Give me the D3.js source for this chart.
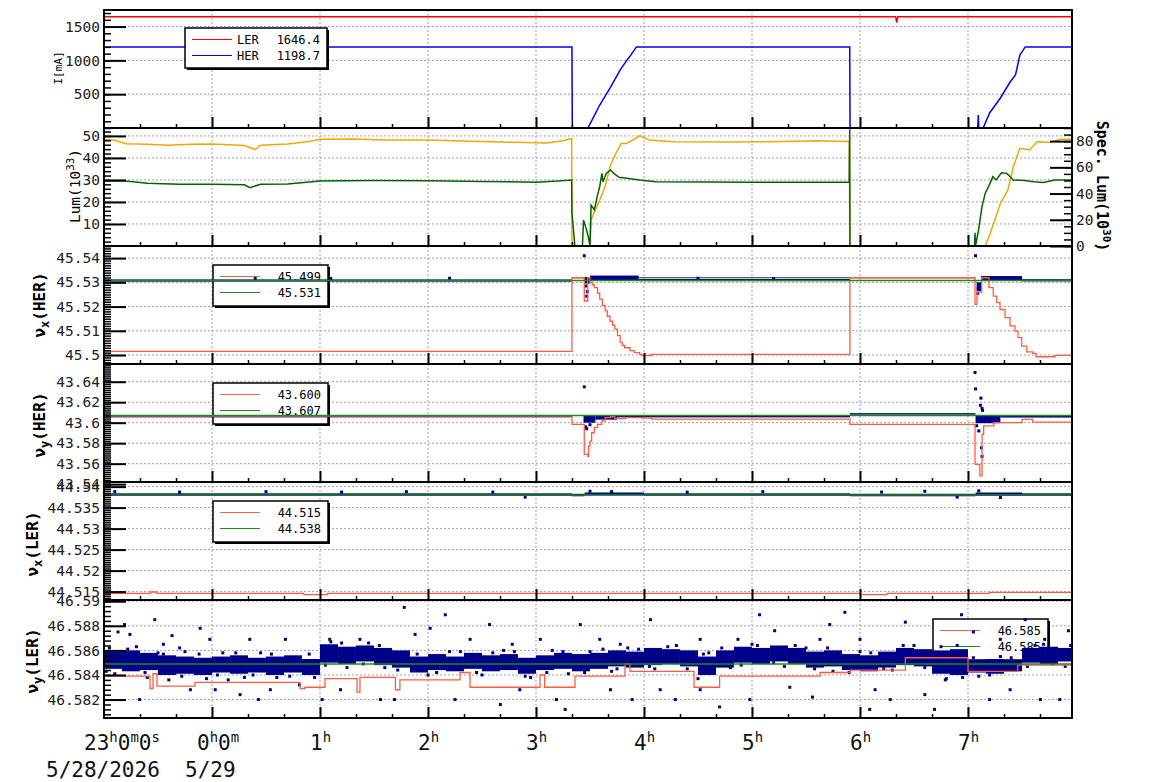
<!DOCTYPE html>
<html>
<head>
<meta charset="utf-8">
<title>HER / LER tunes</title>
<script src="https://cdn.jsdelivr.net/npm/d3@7/dist/d3.min.js"></script>
<style>
  body { margin: 0; background: #fff; }
  svg { display: block; }
  text { font-family: "DejaVu Sans Mono", monospace; }
</style>
</head>
<body>
<div id="chart"></div>
<script>
// time is in hours from 0:00 on 5/29 (so -1 = 23:00 on 5/28)
const timeRange = [-1, 7.963];
const hourTicks = [-1, 0, 1, 2, 3, 4, 5, 6, 7];
const hourLabels = [
  [-1, [["23", 0], ["h", 1], ["0", 0], ["m", 1], ["0", 0], ["s", 1]]],
  [0, [["0", 0], ["h", 1], ["0", 0], ["m", 1]]],
  [1, [["1", 0], ["h", 1]]], [2, [["2", 0], ["h", 1]]], [3, [["3", 0], ["h", 1]]],
  [4, [["4", 0], ["h", 1]]], [5, [["5", 0], ["h", 1]]], [6, [["6", 0], ["h", 1]]],
  [7, [["7", 0], ["h", 1]]]
];
const dateLabels = [[-1, "5/28/2026"], [0, "5/29"]];

// y domains and labelled ticks, one per panel
const yDomains = [[0, 1745], [0, 53.6], [45.4963, 45.545], [43.5421, 43.6573], [44.513, 44.5411], [46.5805, 46.5901]];
const yMajors = [
  [500, 1000, 1500],
  [10, 20, 30, 40, 50],
  [45.5, 45.51, 45.52, 45.53, 45.54],
  [43.54, 43.56, 43.58, 43.6, 43.62, 43.64],
  [44.515, 44.52, 44.525, 44.53, 44.535, 44.54],
  [46.582, 46.584, 46.586, 46.588, 46.59]
];
const yMinorSteps = [100, 2, 0.001, 0.002, 0.0005, 0.0004];
const specLumDomain = [0, 90];
const specLumMajors = [0, 20, 40, 60, 80];

// panel 1: beam currents [mA]
const lerCurrent = [[-1, 1646.4], [6.33, 1646.4], [6.34, 1560], [6.35, 1646.4], [7.963, 1646.4]];
const herCurrent = [[-1, 1198.7], [3.333, 1198.7], [3.336, 0], [3.48, 0], [3.52, 120], [3.59, 340], [3.685, 590],
  [3.78, 860], [3.84, 1000], [3.87, 1060], [3.93, 1198.7], [5.905, 1198.7], [5.908, 0], [7.09, 0], [7.095, 190],
  [7.1, 0], [7.14, 0], [7.2, 222], [7.3, 444], [7.39, 680], [7.44, 784], [7.48, 1080], [7.53, 1198.7], [7.963, 1198.7]];
const currentLegend = [["LER", "1646.4"], ["HER", "1198.7"]];

// panel 2: luminosity
const lumOrange = [[-1, 48.5], [-0.9, 48], [-0.8, 46.5], [-0.6, 46.2], [-0.4, 45.8], [-0.2, 46.2], [0, 46.3], [0.3, 45.6],
  [0.4, 43.8], [0.45, 45.8], [0.7, 46.3], [0.9, 47.5], [1.0, 48.5], [1.3, 48.6], [1.6, 48.2], [2.0, 48.1], [2.4, 47.6],
  [2.8, 47.1], [3.1, 46.8], [3.25, 47.8], [3.33, 48.8], [3.333, 0], [3.5, 0], [3.51, 11.8], [3.55, 16.4], [3.59, 20.9],
  [3.64, 27], [3.69, 36.8], [3.74, 42.1], [3.79, 46.6], [3.84, 46.6], [3.96, 50], [4.05, 48.2], [4.27, 47.4], [4.8, 47.2],
  [5.3, 47.5], [5.6, 47.8], [5.9, 47.5], [5.907, 0], [7.16, 0], [7.2, 5], [7.25, 12], [7.3, 19.4], [7.37, 25.5],
  [7.42, 36], [7.48, 44.4], [7.57, 43.6], [7.64, 47.4], [7.76, 47], [7.85, 48.5], [7.963, 48.5]];
const lumGreen = [[-1, 29.5], [-0.8, 29.5], [-0.6, 28.5], [-0.3, 28], [0, 28], [0.3, 27.8], [0.35, 26.5], [0.45, 28],
  [0.7, 28.2], [1.0, 29.5], [1.5, 29.8], [2.0, 29.6], [2.5, 29.3], [3.0, 29], [3.2, 29.5], [3.33, 30], [3.333, 15],
  [3.36, 0], [3.43, 0], [3.44, 11.8], [3.47, 7], [3.485, 4], [3.5, 0], [3.51, 18.6], [3.54, 16.4], [3.57, 23.2],
  [3.59, 27], [3.61, 33], [3.62, 29.2], [3.65, 33], [3.69, 34.5], [3.72, 33], [3.77, 31.2], [3.84, 30.8], [3.96, 30],
  [4.11, 29.2], [5.0, 29], [5.9, 29], [5.905, 53], [5.907, 0], [7.06, 0], [7.065, 6], [7.07, 0], [7.1, 8], [7.13, 18],
  [7.16, 24], [7.2, 28], [7.23, 31.5], [7.26, 30], [7.31, 33.3], [7.36, 33], [7.42, 30], [7.52, 29.7], [7.61, 29.2],
  [7.7, 28.8], [7.8, 30], [7.963, 30]];

// panel 3: nu_x HER
const nuxHerRed = [[-1, 45.5015], [3.333, 45.5319], [3.447, 45.5223], [3.479, 45.5319], [3.5, 45.53], [3.52, 45.529],
  [3.54, 45.5278], [3.57, 45.5255], [3.59, 45.5231], [3.615, 45.5205], [3.64, 45.5182], [3.66, 45.516], [3.685, 45.514],
  [3.71, 45.5122], [3.73, 45.5107], [3.755, 45.508], [3.78, 45.5051], [3.8, 45.504], [3.82, 45.503], [3.87, 45.5018],
  [3.91, 45.501], [3.96, 45.5003], [3.98, 45.4998], [4.07, 45.5003], [5.907, 45.5319], [7.065, 45.5209], [7.083, 45.526],
  [7.127, 45.5319], [7.194, 45.5278], [7.234, 45.5243], [7.266, 45.5216], [7.296, 45.5188], [7.343, 45.5154],
  [7.389, 45.512], [7.435, 45.5099], [7.463, 45.5072], [7.497, 45.5037], [7.544, 45.5013], [7.6, 45.5007],
  [7.63, 45.4993], [7.806, 45.4999], [7.963, 45.4999]];
const nuxHerGreen = [[-1, 45.5308], [7.963, 45.5308]];
const nuxHerRef = [[3.333, 45.5319], [7.07, 45.5319]];
const nuxHerBlue = [[-1, 3.333, 45.5303, 45.5312], [3.45, 3.5, 45.5295, 45.5322], [3.5, 3.95, 45.5308, 45.5328],
  [3.95, 5.907, 45.5305, 45.5314], [7.08, 7.12, 45.5264, 45.53], [7.12, 7.5, 45.5306, 45.5326], [7.5, 7.963, 45.5304, 45.5313]];
const nuxHerDots = [[3.447, 45.541], [7.07, 45.541], [3.47, 45.5243], [3.475, 45.5262], [3.46, 45.5285], [7.09, 45.5255],
  [7.095, 45.5275], [0.4, 45.5316], [1.1, 45.5316], [2.2, 45.5317], [4.5, 45.5317], [5.2, 45.5316]];
const nuxHerLegend = ["45.499", "45.531"];

// panel 4: nu_y HER
const nuyHerRed = [[-1, 43.6065], [3.333, 43.5984], [3.447, 43.5691], [3.48, 43.5668], [3.487, 43.5772], [3.5, 43.5821],
  [3.515, 43.5902], [3.54, 43.5951], [3.57, 43.5984], [3.61, 43.6017], [3.64, 43.6049], [3.69, 43.6058], [3.73, 43.6039],
  [3.83, 43.6049], [3.98, 43.6045], [4.07, 43.6035], [5.907, 43.5984], [7.065, 43.5594], [7.11, 43.548], [7.13, 43.5887],
  [7.145, 43.5968], [7.24, 43.6], [7.5, 43.6033], [7.6, 43.6005], [7.963, 43.6005]];
const nuyHerGreen = [[-1, 43.607], [7.963, 43.607]];
const nuyHerBlue = [[-1, 3.333, 43.6052, 43.6068], [3.44, 3.55, 43.6, 43.6072], [3.55, 3.75, 43.603, 43.6072],
  [3.75, 5.907, 43.6052, 43.607], [5.907, 7.07, 43.6083, 43.6093], [7.07, 7.3, 43.5995, 43.6072], [7.3, 7.963, 43.605, 43.607]];
const nuyHerDots = [[3.447, 43.635], [3.46, 43.596], [3.47, 43.594], [3.5, 43.598], [7.065, 43.649], [7.07, 43.633],
  [7.12, 43.624], [7.115, 43.617], [7.13, 43.614], [7.135, 43.612], [7.08, 43.597], [7.1, 43.592], [7.125, 43.5755], [7.13, 43.567]];
const nuyHerLegend = ["43.600", "43.607"];

// panel 5: nu_x LER
const nuxLerRed = [[-1, 44.5146], [-0.57, 44.5149], [-0.51, 44.5146], [0.85, 44.5143], [1.07, 44.5146], [6.0, 44.5143],
  [6.25, 44.5146], [7.2, 44.5148], [7.963, 44.5148]];
const nuxLerGreen = [[-1, 44.538], [7.963, 44.538]];
const nuxLerBlue = [[-1, 3.333, 44.5378, 44.5384], [3.333, 3.45, 44.5377, 44.5383], [3.45, 4.0, 44.5379, 44.5386],
  [4.0, 5.907, 44.5378, 44.5384], [5.907, 7.07, 44.5377, 44.5383], [7.07, 7.5, 44.5378, 44.5386], [7.5, 7.963, 44.5378, 44.5384]];
const nuxLerDots = [[-0.9, 44.5388], [-0.3, 44.5387], [0.5, 44.5388], [1.2, 44.5387], [1.8, 44.5388], [2.6, 44.5387],
  [3.5, 44.5389], [3.7, 44.5388], [4.4, 44.5387], [5.1, 44.5388], [6.2, 44.5387], [6.6, 44.5389], [7.1, 44.539],
  [7.3, 44.5374], [6.9, 44.5375], [2.9, 44.5375]];
const nuxLerLegend = ["44.515", "44.538"];

// panel 6: nu_y LER
const nuyLerRed = [[-1, 46.5839], [-0.574, 46.5829], [-0.546, 46.5841], [-0.509, 46.5831], [-0.157, 46.5834],
  [0.815, 46.5829], [0.861, 46.583], [1.046, 46.5837], [1.343, 46.5826], [1.37, 46.5838], [1.698, 46.5828],
  [1.74, 46.5836], [2.296, 46.5842], [2.389, 46.583], [3.037, 46.584], [3.08, 46.583], [3.361, 46.5839],
  [3.824, 46.5849], [3.87, 46.5843], [4.463, 46.583], [4.7, 46.5839], [5.63, 46.5842], [5.907, 46.5844],
  [6.42, 46.5854], [7.0, 46.5843], [7.46, 46.5848], [7.963, 46.5848]];
const nuyLerGreen = [[-1, 46.5849], [7.963, 46.5849]];
// dense part of the scatter, per 10 minutes: [start, low, high]
const nuyLerCore = [
  [-1, 46.5845, 46.5859], [-0.833, 46.5843, 46.586], [-0.667, 46.5844, 46.5858], [-0.5, 46.584, 46.5856],
  [-0.333, 46.5841, 46.5855], [-0.167, 46.584, 46.5854], [0, 46.5842, 46.5855], [0.167, 46.5841, 46.5856],
  [0.333, 46.5842, 46.5854], [0.5, 46.584, 46.5855], [0.667, 46.5842, 46.5856], [0.833, 46.584, 46.5853],
  [1, 46.585, 46.5865], [1.167, 46.5849, 46.5863], [1.333, 46.5851, 46.5864], [1.5, 46.5848, 46.5862],
  [1.667, 46.5846, 46.586], [1.833, 46.5842, 46.5855], [2, 46.5844, 46.5857], [2.167, 46.5843, 46.5855],
  [2.333, 46.5845, 46.5858], [2.5, 46.5843, 46.5856], [2.667, 46.5844, 46.5857], [2.833, 46.5841, 46.5854],
  [3, 46.5844, 46.5856], [3.167, 46.5845, 46.5858], [3.333, 46.5843, 46.5857], [3.5, 46.5845, 46.5858],
  [3.667, 46.5847, 46.586], [3.833, 46.5846, 46.5859], [4, 46.5848, 46.5862], [4.167, 46.5849, 46.5861],
  [4.333, 46.5847, 46.586], [4.5, 46.584, 46.5855], [4.667, 46.5846, 46.586], [4.833, 46.585, 46.5863],
  [5, 46.5849, 46.5862], [5.167, 46.5851, 46.5864], [5.333, 46.5849, 46.5862], [5.5, 46.5846, 46.5859],
  [5.667, 46.5847, 46.586], [5.833, 46.5844, 46.5857], [6, 46.5843, 46.5856], [6.167, 46.5846, 46.5859],
  [6.333, 46.5848, 46.5862], [6.5, 46.5847, 46.5861], [6.667, 46.5841, 46.586], [6.833, 46.584, 46.5861],
  [7, 46.5842, 46.5852], [7.167, 46.5841, 46.5853], [7.333, 46.5843, 46.5852], [7.5, 46.585, 46.5862],
  [7.667, 46.5849, 46.5863], [7.833, 46.5851, 46.5862]];
const nuyLerDots = [[-0.87, 46.5875], [-0.81, 46.5881], [-0.76, 46.5873], [-0.53, 46.5885], [-0.45, 46.5865], [-0.37, 46.5872],
  [-0.3, 46.5862], [-0.11, 46.5878], [0.03, 46.5828], [0.15, 46.5836], [0.26, 46.5824], [0.43, 46.582], [0.54, 46.5828],
  [0.81, 46.5832], [1.02, 46.582], [1.19, 46.5828], [1.56, 46.582], [1.78, 46.5895], [1.88, 46.5873], [2.02, 46.5878],
  [2.16, 46.5889], [2.39, 46.5869], [2.57, 46.5881], [2.78, 46.5865], [2.85, 46.5828], [3.19, 46.582], [3.27, 46.5812],
  [3.41, 46.5881], [3.59, 46.5869], [3.69, 46.5828], [3.89, 46.582], [4.06, 46.5885], [4.15, 46.5828], [4.29, 46.582],
  [4.52, 46.5828], [4.7, 46.5814], [4.87, 46.5869], [5.07, 46.5889], [5.21, 46.5876], [5.35, 46.583], [5.56, 46.5822],
  [5.72, 46.5881], [5.86, 46.5891], [6.0, 46.5869], [6.14, 46.5828], [6.28, 46.582], [6.42, 46.5883], [6.6, 46.5824],
  [6.79, 46.5836], [6.94, 46.5889], [7.05, 46.5875], [7.2, 46.582], [7.39, 46.5828], [7.53, 46.5885], [7.71, 46.5869],
  [7.85, 46.582], [7.93, 46.5876], [-0.67, 46.582], [-0.2, 46.5828], [0.35, 46.5869], [0.68, 46.5869], [1.37, 46.5869],
  [1.69, 46.582], [2.25, 46.582], [2.67, 46.5816], [3.04, 46.5869], [3.78, 46.5865], [4.52, 46.5869], [4.98, 46.582],
  [5.63, 46.5869], [6.09, 46.5812], [6.69, 46.5812], [7.3, 46.5869], [7.67, 46.582], [7.81, 46.5861], [-0.02, 46.5869],
  [1.09, 46.5869],
  [-0.95, 46.5862], [-0.9, 46.5841], [-0.7, 46.5863], [-0.6, 46.5838], [-0.5, 46.5858], [-0.4, 46.5836], [-0.25, 46.5859],
  [-0.05, 46.5837], [0.1, 46.5858], [0.3, 46.5838], [0.45, 46.5858], [0.6, 46.5838], [0.9, 46.5857], [1.1, 46.5867],
  [1.25, 46.5846], [1.45, 46.5866], [1.6, 46.5846], [1.8, 46.5858], [2.0, 46.584], [2.2, 46.5859], [2.5, 46.584],
  [2.7, 46.586], [2.95, 46.5838], [3.15, 46.586], [3.3, 46.5841], [3.5, 46.5859], [3.7, 46.5843], [3.85, 46.5862],
  [4.1, 46.5845], [4.3, 46.5864], [4.5, 46.5837], [4.6, 46.5858], [4.8, 46.5846], [5.0, 46.5865], [5.3, 46.5847],
  [5.5, 46.5862], [5.75, 46.5843], [6.0, 46.5859], [6.3, 46.5844], [6.5, 46.5864], [6.8, 46.5837], [6.9, 46.5864],
  [7.1, 46.5839], [7.3, 46.5855], [7.55, 46.5847], [7.7, 46.5865], [7.9, 46.5847],
  [-0.98, 46.5843], [-0.78, 46.5861], [-0.62, 46.5842], [-0.45, 46.5857], [-0.28, 46.5839], [-0.12, 46.5857],
  [0.05, 46.584], [0.22, 46.5858], [0.38, 46.584], [0.55, 46.5857], [0.72, 46.5839], [0.95, 46.5838], [1.05, 46.5848],
  [1.2, 46.5866], [1.4, 46.5849], [1.55, 46.5864], [1.72, 46.5844], [1.9, 46.5857], [2.08, 46.5842], [2.3, 46.5859],
  [2.45, 46.5842], [2.6, 46.5858], [2.8, 46.5859], [2.9, 46.5839], [3.1, 46.5842], [3.25, 46.5859], [3.45, 46.5842],
  [3.62, 46.5861], [3.75, 46.5845], [3.95, 46.5861], [4.05, 46.5847], [4.22, 46.5863], [4.4, 46.5845], [4.55, 46.5857],
  [4.72, 46.5862], [4.9, 46.5848], [5.05, 46.5864], [5.2, 46.585], [5.4, 46.5864], [5.58, 46.5845], [5.7, 46.5862],
  [5.9, 46.5842], [6.1, 46.5858], [6.22, 46.5845], [6.4, 46.5864], [6.6, 46.5846], [6.75, 46.5863], [6.95, 46.5838],
  [7.05, 46.5854], [7.2, 46.584], [7.4, 46.5854], [7.48, 46.5848], [7.62, 46.5864], [7.78, 46.5849], [7.95, 46.5864]];
const nuyLerLegend = ["46.585", "46.585"];

// ---- layout ----
const W = 1154, H = 782;
const plotLeft = 104, plotRight = 1072, plotTop = 10, panelH = 118;
const RED = "#ff0000", BLUE = "#0000ff", ORANGE = "#f0a800", DKGREEN = "#006400";
const TOMATO = "#ff5c3f", GREEN = "#1e8a1e", NAVY = "#000088";

const x = d3.scaleLinear().domain(timeRange).range([plotLeft, plotRight]);

const svg = d3.select("#chart").append("svg").attr("width", W).attr("height", H);
svg.append("rect").attr("width", W).attr("height", H).attr("fill", "#fff");
const defs = svg.append("defs");

const minorHours = d3.range(1, 27).map(k => -1 + k / 3).filter(h => Math.abs(h - Math.round(h)) > 0.01);

function stepValues(domain, step) {
  const k0 = Math.ceil(domain[0] / step - 1e-6), k1 = Math.floor(domain[1] / step + 1e-6);
  return d3.range(k0, k1 + 1).map(k => +(k * step).toFixed(6));
}

function makePanel(i) {
  const domain = yDomains[i], majors = yMajors[i];
  const top = plotTop + i * panelH, bottom = top + panelH;
  const y = d3.scaleLinear().domain(domain).range([bottom, top]);
  const g = svg.append("g").attr("class", "panel" + i);

  defs.append("clipPath").attr("id", "clip" + i)
    .append("rect").attr("x", plotLeft).attr("y", top).attr("width", plotRight - plotLeft).attr("height", panelH);

  const grid = g.append("g").attr("stroke", "#a0a0a0").attr("stroke-dasharray", "2,2");
  grid.selectAll("line.vx").data(hourTicks.slice(1)).join("line").attr("class", "vx")
    .attr("x1", d => x(d)).attr("x2", d => x(d)).attr("y1", top).attr("y2", bottom);
  grid.selectAll("line.hy").data(majors.filter(v => v > domain[0] && v < domain[1])).join("line").attr("class", "hy")
    .attr("x1", plotLeft).attr("x2", plotRight).attr("y1", d => y(d)).attr("y2", d => y(d));

  const under = g.append("g");
  const plot = g.append("g").attr("clip-path", `url(#clip${i})`);
  const over = g.append("g");
  const axes = g.append("g");

  axes.append("g").attr("transform", `translate(${plotLeft},0)`)
    .call(d3.axisLeft(y).tickValues(stepValues(domain, yMinorSteps[i])).tickSize(-7).tickFormat(""))
    .call(a => a.select(".domain").remove())
    .call(a => a.selectAll("line").attr("stroke-width", 1.5));
  axes.append("g").attr("transform", `translate(${plotLeft},0)`)
    .call(d3.axisLeft(y).tickValues(majors).tickSize(-22).tickPadding(4).tickFormat(d => String(d)))
    .attr("font-family", "DejaVu Sans Mono").attr("font-size", 14.5)
    .call(a => a.select(".domain").remove())
    .call(a => a.selectAll("line").attr("stroke-width", 2))
    .call(a => a.selectAll("text").attr("fill", "#222"));

  axes.append("g").attr("transform", `translate(0,${bottom})`)
    .call(d3.axisBottom(x).tickValues(minorHours).tickSize(-4).tickFormat(""))
    .call(a => a.select(".domain").remove())
    .call(a => a.selectAll("line").attr("stroke-width", 1.5));
  axes.append("g").attr("transform", `translate(0,${bottom})`)
    .call(d3.axisBottom(x).tickValues(hourTicks.slice(1)).tickSize(-11).tickFormat(""))
    .call(a => a.select(".domain").remove())
    .call(a => a.selectAll("line").attr("stroke-width", 2));

  axes.append("rect").attr("x", plotLeft).attr("y", top)
    .attr("width", plotRight - plotLeft).attr("height", panelH)
    .attr("fill", "none").attr("stroke", "#000").attr("stroke-width", 2);

  return { y, plot, under, over, axes, top, bottom };
}

function drawLine(p, data, color, width, curve) {
  p.plot.append("path").datum(data)
    .attr("fill", "none").attr("stroke", color).attr("stroke-width", width)
    .attr("d", d3.line().curve(curve || d3.curveLinear).x(d => x(d[0])).y(d => p.y(d[1])));
}

function drawBand(p, bins, color) {
  p.plot.append("g").selectAll("rect").data(bins).join("rect")
    .attr("x", d => x(d[0])).attr("width", d => x(d[1]) - x(d[0]))
    .attr("y", d => p.y(d[3])).attr("height", d => Math.max(1.5, p.y(d[2]) - p.y(d[3])))
    .attr("fill", color);
}

function drawDots(p, pts, color, size) {
  p.plot.append("g").selectAll("rect").data(pts).join("rect")
    .attr("x", d => x(d[0]) - size / 2).attr("y", d => p.y(d[1]) - size / 2)
    .attr("width", size).attr("height", size).attr("fill", color);
}

function drawLegend(layer, bx, by, bw, bh, rows) {
  layer.append("rect").attr("x", bx + 2).attr("y", by + 2).attr("width", bw).attr("height", bh).attr("fill", "#000");
  layer.append("rect").attr("x", bx).attr("y", by).attr("width", bw).attr("height", bh)
    .attr("fill", "#fff").attr("stroke", "#000").attr("stroke-width", 1.5);
  rows.forEach((r, k) => {
    const ly = by + 11.5 + k * 16;
    layer.append("line").attr("x1", bx + 7).attr("x2", bx + 47).attr("y1", ly).attr("y2", ly)
      .attr("stroke", r.color).attr("stroke-width", 1.2);
    if (r.name) layer.append("text").attr("x", bx + 52).attr("y", ly + 4).attr("font-size", 12).text(r.name);
    layer.append("text").attr("x", bx + bw - 7).attr("y", ly + 4).attr("text-anchor", "end")
      .attr("font-size", 12).text(r.value);
  });
}

function yTitle(cx, cy, parts, size, bold) {
  const t = svg.append("text").attr("transform", `translate(${cx},${cy}) rotate(-90)`)
    .attr("text-anchor", "middle").attr("font-size", size).attr("font-weight", bold ? "bold" : "normal");
  parts.forEach(([s, kind]) => {
    const sp = t.append("tspan").text(s);
    if (kind === "sub") sp.attr("font-size", size * 0.75).attr("dy", 4);
    if (kind === "sup") sp.attr("font-size", size * 0.75).attr("dy", -6);
    if (kind === "back") sp.attr("dy", -4);
    if (kind === "down") sp.attr("dy", 6);
  });
  return t;
}

const panels = d3.range(6).map(makePanel);

// panel 1 - currents
drawLine(panels[0], lerCurrent, RED, 1.5);
drawLine(panels[0], herCurrent, BLUE, 1.5);
drawLegend(panels[0].over, 185, 28, 142, 40,
  [{ color: RED, name: currentLegend[0][0], value: currentLegend[0][1] },
   { color: BLUE, name: currentLegend[1][0], value: currentLegend[1][1] }]);

// panel 2 - luminosity, with the specific luminosity axis on the right
drawLine(panels[1], lumOrange, ORANGE, 1.5);
drawLine(panels[1], lumGreen, DKGREEN, 1.5);
const yR = d3.scaleLinear().domain(specLumDomain).range([panels[1].bottom, panels[1].top]);
panels[1].axes.append("g").attr("transform", `translate(${plotRight},0)`)
  .call(d3.axisRight(yR).tickValues(stepValues(specLumDomain, 5)).tickSize(-8).tickFormat(""))
  .call(a => a.select(".domain").remove())
  .call(a => a.selectAll("line").attr("stroke-width", 1.5));
panels[1].axes.append("g").attr("transform", `translate(${plotRight},0)`)
  .call(d3.axisRight(yR).tickValues(specLumMajors).tickSize(-22).tickPadding(4))
  .attr("font-family", "DejaVu Sans Mono").attr("font-size", 14.5)
  .call(a => a.select(".domain").remove())
  .call(a => a.selectAll("line").attr("stroke-width", 2))
  .call(a => a.selectAll("text").attr("fill", "#222"));

// turn the 10-minute core list into bins ending where the next one starts
const nuyLerBins = nuyLerCore.map((d, k) =>
  [d[0], k + 1 < nuyLerCore.length ? nuyLerCore[k + 1][0] : timeRange[1], d[1], d[2]]);

// panels 3-6 - tunes
const tunePanels = [
  [panels[2], nuxHerRed, nuxHerGreen, nuxHerBlue, nuxHerDots, nuxHerLegend],
  [panels[3], nuyHerRed, nuyHerGreen, nuyHerBlue, nuyHerDots, nuyHerLegend],
  [panels[4], nuxLerRed, nuxLerGreen, nuxLerBlue, nuxLerDots, nuxLerLegend],
  [panels[5], nuyLerRed, nuyLerGreen, nuyLerBins, nuyLerDots, nuyLerLegend]
];
tunePanels.forEach(([p, red, green, blue, dots, leg], k) => {
  const bx = k === 3 ? 933 : 213;
  drawLegend(p.under, bx, p.top + 19, 115, 41,
    [{ color: TOMATO, value: leg[0] }, { color: GREEN, value: leg[1] }]);
  if (k === 0) drawLine(p, nuxHerRef, "#333", 1);
  drawBand(p, blue, NAVY);
  drawDots(p, dots, NAVY, 3);
  drawLine(p, red, TOMATO, 1.3, d3.curveStepAfter);
  drawLine(p, green, GREEN, 1.5);
});

// axis titles
yTitle(62, 68, [["I[mA]", ""]], 11, false);
yTitle(80, 186, [["Lum(10", ""], ["33", "sup"], [")", "down"]], 14.5, false);
yTitle(45, 305, [["ν", ""], ["x", "sub"], ["(HER)", "back"]], 16, true);
yTitle(45, 425, [["ν", ""], ["y", "sub"], ["(HER)", "back"]], 16, true);
yTitle(38, 544, [["ν", ""], ["x", "sub"], ["(LER)", "back"]], 16, true);
yTitle(38, 661, [["ν", ""], ["y", "sub"], ["(LER)", "back"]], 16, true);

const rt = svg.append("text").attr("transform", `translate(1097,186) rotate(90)`)
  .attr("text-anchor", "middle").attr("font-size", 15).attr("font-weight", "bold");
rt.append("tspan").text("Spec. Lum(10");
rt.append("tspan").text("30").attr("font-size", 11).attr("dy", -6);
rt.append("tspan").text(")").attr("dy", 6);

// time axis labels under the last panel
const labelShift = h => h === -1 ? -20 : h === 0 ? -15 : -10;
const timeText = svg.append("g").attr("font-size", 21).attr("fill", "#111");
hourLabels.forEach(([h, parts]) => {
  const t = timeText.append("text").attr("x", x(h) + labelShift(h)).attr("y", 750);
  parts.forEach(([s, sup]) => {
    t.append("tspan").text(s).attr("font-size", sup ? 14 : 21).attr("dy", sup ? -8 : 8);
  });
  t.select("tspan").attr("dy", 0);
});
dateLabels.forEach(([h, s]) => {
  timeText.append("text").attr("x", h === -1 ? 46 : x(h) - 27).attr("y", 777).text(s);
});
</script>
</body>
</html>
